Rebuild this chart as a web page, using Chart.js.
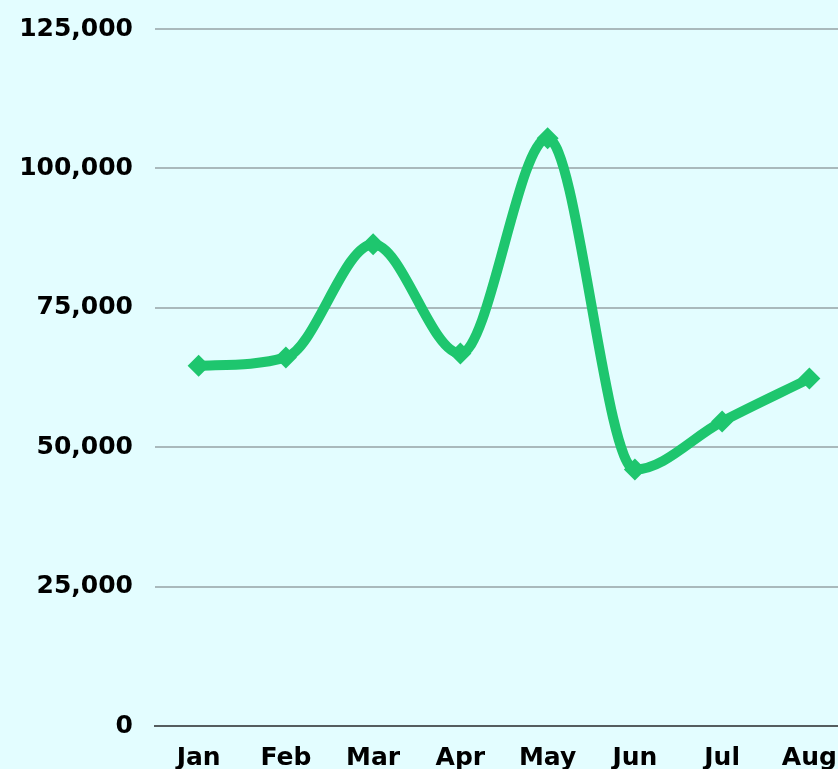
<!DOCTYPE html>
<html>
<head>
<meta charset="utf-8">
<script src="https://cdn.jsdelivr.net/npm/chart.js@4"></script>
<style>
  html, body { margin: 0; padding: 0; background: #e3fdff; overflow: hidden; }
  #wrap { position: relative; width: 864px; height: 790px; }
</style>
</head>
<body>
<div id="wrap"><canvas id="chart"></canvas></div>
<script>
  const months = ["Jan", "Feb", "Mar", "Apr", "May", "Jun", "Jul", "Aug"];
  const values = [64600, 66100, 86400, 66800, 105400, 46000, 54600, 62300];
  const yTicks = [0, 25000, 50000, 75000, 100000, 125000];

  const lineColor = "#1ec66e";
  const tickFont = { family: "'DejaVu Sans', sans-serif", size: 25, weight: "bold" };

  new Chart(document.getElementById("chart"), {
    type: "line",
    data: {
      labels: months,
      datasets: [{
        data: values,
        borderColor: lineColor,
        backgroundColor: lineColor,
        borderWidth: 10,
        cubicInterpolationMode: "monotone",
        pointStyle: "rectRot",
        pointRadius: 11,
        pointHoverRadius: 11,
        pointBorderWidth: 0,
        fill: false
      }]
    },
    options: {
      responsive: true,
      maintainAspectRatio: false,
      animation: false,
      layout: { padding: { top: 29, right: 0, bottom: 0, left: 0 } },
      plugins: {
        legend: { display: false },
        tooltip: { enabled: false }
      },
      scales: {
        x: {
          offset: true,
          grid: { display: false, drawTicks: false },
          border: { display: true, color: "#555d5f", width: 2 },
          ticks: { color: "#000", font: tickFont, padding: 17, maxRotation: 0 }
        },
        y: {
          min: 0,
          max: 125000,
          afterBuildTicks: (scale) => { scale.ticks = yTicks.map(v => ({ value: v })); },
          afterFit: (scale) => {
            scale.width = 155;
            scale.paddingTop = 0;
            scale.paddingBottom = 0;
          },
          grid: { color: "#a9b9bc", lineWidth: 2, drawTicks: false },
          border: { display: false },
          ticks: {
            color: "#000",
            font: tickFont,
            padding: 22,
            callback: (v) => v.toLocaleString("en-US")
          }
        }
      }
    }
  });
</script>
</body>
</html>
